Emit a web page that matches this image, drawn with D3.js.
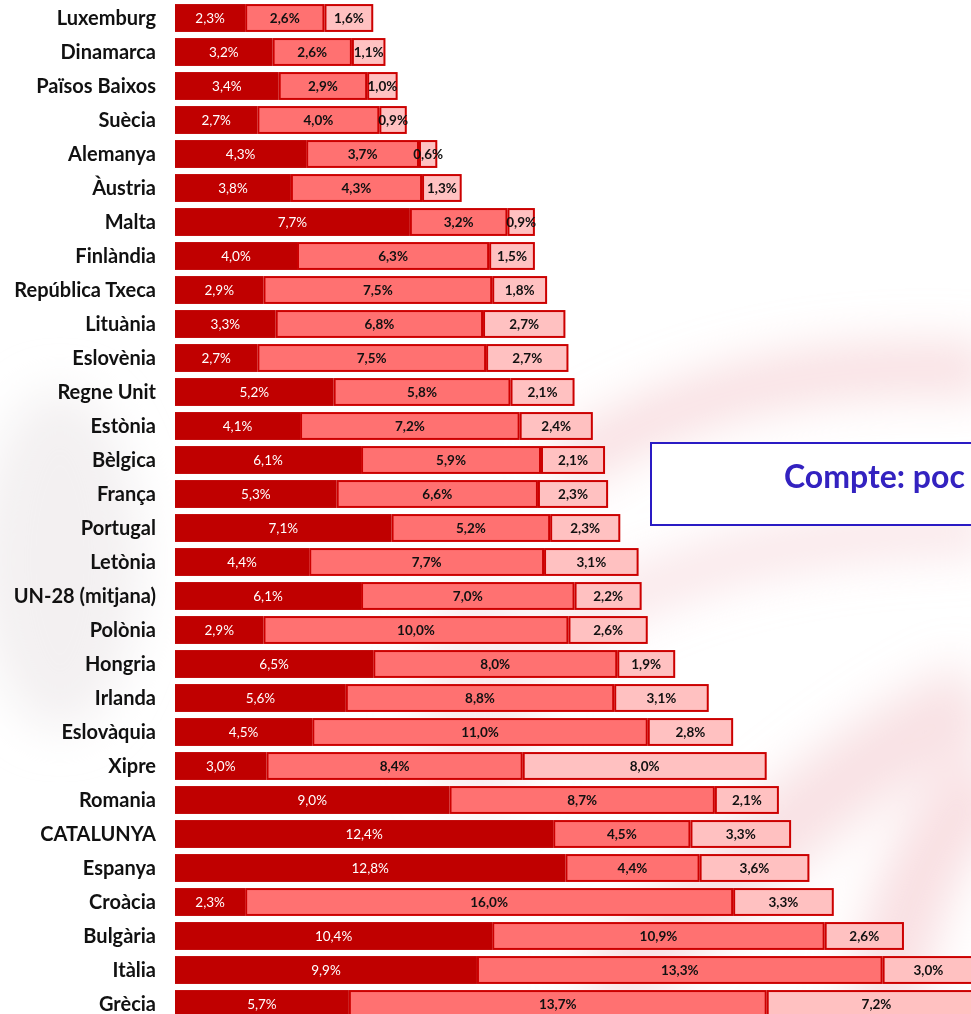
<!DOCTYPE html>
<html lang="ca">
<head>
<meta charset="UTF-8">
<title>Pobresa per components</title>
<script src="https://d3js.org/d3.v7.min.js"></script>
<style>
  html, body { margin: 0; padding: 0; background: #fff; overflow: hidden; }
  svg { display: block; }
</style>
</head>
<body>
<svg id="chart" width="971" height="1014"></svg>
<script>
// Data
const countries = ["Luxemburg", "Dinamarca", "Països Baixos", "Suècia", "Alemanya", "Àustria", "Malta",
  "Finlàndia", "República Txeca", "Lituània", "Eslovènia", "Regne Unit", "Estònia", "Bèlgica", "França",
  "Portugal", "Letònia", "UN-28 (mitjana)", "Polònia", "Hongria", "Irlanda", "Eslovàquia", "Xipre",
  "Romania", "CATALUNYA", "Espanya", "Croàcia", "Bulgària", "Itàlia", "Grècia"];
const part1 = [2.3, 3.2, 3.4, 2.7, 4.3, 3.8, 7.7, 4.0, 2.9, 3.3, 2.7, 5.2, 4.1, 6.1, 5.3, 7.1, 4.4, 6.1, 2.9, 6.5, 5.6, 4.5, 3.0, 9.0, 12.4, 12.8, 2.3, 10.4, 9.9, 5.7];
const part2 = [2.6, 2.6, 2.9, 4.0, 3.7, 4.3, 3.2, 6.3, 7.5, 6.8, 7.5, 5.8, 7.2, 5.9, 6.6, 5.2, 7.7, 7.0, 10.0, 8.0, 8.8, 11.0, 8.4, 8.7, 4.5, 4.4, 16.0, 10.9, 13.3, 13.7];
const part3 = [1.6, 1.1, 1.0, 0.9, 0.6, 1.3, 0.9, 1.5, 1.8, 2.7, 2.7, 2.1, 2.4, 2.1, 2.3, 2.3, 3.1, 2.2, 2.6, 1.9, 3.1, 2.8, 8.0, 2.1, 3.3, 3.6, 3.3, 2.6, 3.0, 7.2];
const seriesKeys = ["p1", "p2", "p3"];
const noteText = "Compte: poc";

const rows = countries.map((c, i) => ({ name: c, p1: part1[i], p2: part2[i], p3: part3[i] }));

const svg = d3.select("#chart");
const font = "Lato, 'Open Sans', sans-serif";

// faint watermark in the background
const defs = svg.append("defs");
defs.append("filter").attr("id", "blur").attr("x", "-50%").attr("y", "-50%").attr("width", "200%").attr("height", "200%")
  .append("feGaussianBlur").attr("stdDeviation", 24);

const wm = svg.append("g").attr("filter", "url(#blur)");
wm.append("path")
  .attr("d", "M560,470 C680,390 820,360 990,370")
  .attr("fill", "none").attr("stroke", "#f3c6cb").attr("stroke-width", 50).attr("opacity", 0.6);
wm.append("path")
  .attr("d", "M540,650 C640,570 800,530 990,530")
  .attr("fill", "none").attr("stroke", "#f4cdd2").attr("stroke-width", 44).attr("opacity", 0.55);
wm.append("path")
  .attr("d", "M600,1000 C700,900 840,760 980,700")
  .attr("fill", "none").attr("stroke", "#f3c9ce").attr("stroke-width", 80).attr("opacity", 0.55);
wm.append("path")
  .attr("d", "M880,1020 C900,900 940,820 990,780")
  .attr("fill", "none").attr("stroke", "#f2c3c9").attr("stroke-width", 70).attr("opacity", 0.55);
wm.append("ellipse").attr("cx", 60).attr("cy", 560).attr("rx", 80).attr("ry", 170)
  .attr("fill", "#eeeaeb").attr("opacity", 0.7);
wm.append("ellipse").attr("cx", 480).attr("cy", 700).attr("rx", 60).attr("ry", 120)
  .attr("fill", "#f6dadd").attr("opacity", 0.5);

// scales
const x0 = 175;
const x = d3.scaleLinear().domain([0, 10]).range([x0, x0 + 305]);
const y = d3.scaleBand().domain(countries).range([1, 1 + 34 * countries.length]).paddingInner(0.18).paddingOuter(0.09);

const stack = d3.stack().keys(seriesKeys)(rows);
const fills = { p1: "#c00000", p2: "#ff7171", p3: "#ffc1c1" };
const textCol = { p1: "#ffffff", p2: "#111111", p3: "#111111" };
const weight = { p1: "normal", p2: "bold", p3: "bold" };

const fmt = v => v.toFixed(1).replace(".", ",") + "%";

const layers = svg.append("g").selectAll("g.layer").data(stack).join("g").attr("class", "layer");

layers.selectAll("rect").data(d => d.map(s => Object.assign(s, { key: d.key }))).join("rect")
  .attr("x", d => x(d[0]) + (d.key === "p1" ? 0 : 1))
  .attr("y", d => y(d.data.name) + (d.key === "p1" ? 0 : 1))
  .attr("width", d => x(d[1]) - x(d[0]) - (d.key === "p1" ? 0 : 2))
  .attr("height", d => y.bandwidth() - (d.key === "p1" ? 0 : 2))
  .attr("fill", d => fills[d.key])
  .attr("stroke", d => d.key === "p1" ? "none" : "#cc0000")
  .attr("stroke-width", 2);

layers.selectAll("text").data(d => d).join("text")
  .attr("x", d => (x(d[0]) + x(d[1])) / 2)
  .attr("y", d => y(d.data.name) + y.bandwidth() / 2)
  .attr("dy", "0.36em")
  .attr("text-anchor", "middle")
  .attr("font-family", font)
  .attr("font-size", 13.5)
  .attr("font-weight", d => weight[d.key])
  .attr("fill", d => textCol[d.key])
  .text(d => fmt(d[1] - d[0]));

// category labels
svg.append("g").selectAll("text").data(countries).join("text")
  .attr("x", 156)
  .attr("y", d => y(d) + y.bandwidth() / 2)
  .attr("dy", "0.36em")
  .attr("text-anchor", "end")
  .attr("font-family", font)
  .attr("font-size", 20)
  .attr("font-weight", "bold")
  .attr("fill", "#111")
  .text(d => d);

// note box, running off the right edge
const note = svg.append("g");
note.append("rect").attr("x", 651).attr("y", 443).attr("width", 400).attr("height", 82)
  .attr("fill", "#fff").attr("stroke", "#2a1bc4").attr("stroke-width", 2);
const noteLabel = note.append("text").attr("x", 784).attr("y", 488)
  .attr("font-family", font)
  .attr("font-size", 32).attr("font-weight", "bold").attr("fill", "#3322c0")
  .text(noteText);
// fit the visible words to the space before the edge
const nw = noteLabel.node().getComputedTextLength();
if (nw > 182) noteLabel.attr("font-size", 32 * 182 / nw);
</script>
</body>
</html>
